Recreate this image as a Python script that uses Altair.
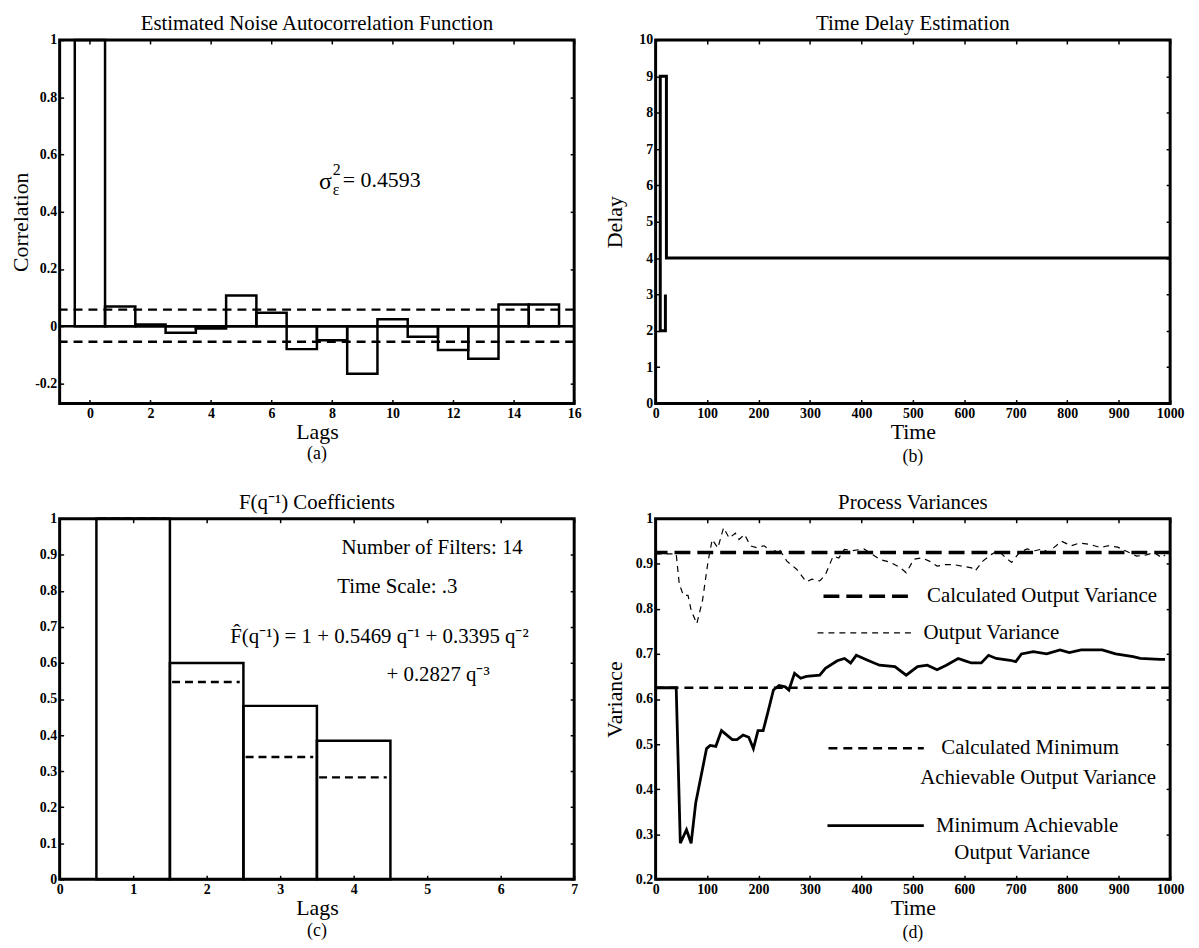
import altair as alt
import pandas as pd

FONT = "Liberation Serif"

# ---------------- (a) Estimated noise autocorrelation ----------------
acf_lag = [0, 1, 2, 3, 4, 5, 6, 7, 8, 9, 10, 11, 12, 13, 14, 15]
acf_val = [1.0, 0.069, 0.006, -0.023, -0.008, 0.107, 0.047, -0.080,
           -0.049, -0.166, 0.024, -0.037, -0.083, -0.114, 0.076, 0.076]
acf_conf = [0.058, -0.054]
acf_zero = [0.0]
acf_xticks = [0, 2, 4, 6, 8, 10, 12, 14, 16]
acf_yticks = [-0.2, 0, 0.2, 0.4, 0.6, 0.8, 1]
acf_xdom = [-1, 16]
acf_ydom = [-0.27, 1]

# ---------------- (b) Time delay estimation ----------------
delay_time = [19, 19, 9, 9, 21, 21, 1000]
delay_value = [3, 2, 2, 9, 9, 4, 4]
delay_order = [0, 1, 2, 3, 4, 5, 6]
delay_xticks = [0, 100, 200, 300, 400, 500, 600, 700, 800, 900, 1000]
delay_yticks = [0, 1, 2, 3, 4, 5, 6, 7, 8, 9, 10]

# ---------------- (c) F(q^-1) coefficients ----------------
f_lag = [1, 2, 3, 4]
f_true = [1.0, 0.6, 0.481, 0.384]
f_est = [1.0, 0.5469, 0.3395, 0.2827]
f_xticks = [0, 1, 2, 3, 4, 5, 6, 7]
f_yticks = [0, 0.1, 0.2, 0.3, 0.4, 0.5, 0.6, 0.7, 0.8, 0.9, 1]

# ---------------- (d) Process variances ----------------
calc_out_var = [0.925]
calc_min_var = [0.625]
ov_time = [0, 40, 46, 54, 63, 69, 80, 91, 102, 110, 121, 132, 143, 155, 162,
           173, 184, 196, 211, 226, 240, 255, 274, 293, 304, 319, 330, 345,
           356, 367, 382, 405, 420, 435, 457, 476, 487, 502, 517, 532, 547,
           562, 580, 595, 614, 621, 636, 651, 666, 681, 692, 707, 722, 737,
           752, 763, 774, 789, 808, 823, 845, 864, 879, 898, 913, 935, 954,
           969, 984, 990]
ov_value = [0.922, 0.922, 0.855, 0.83, 0.83, 0.797, 0.767, 0.818, 0.906,
            0.954, 0.935, 0.98, 0.957, 0.968, 0.954, 0.965, 0.94, 0.936,
            0.94, 0.926, 0.933, 0.906, 0.888, 0.86, 0.866, 0.862, 0.876,
            0.917, 0.913, 0.932, 0.929, 0.933, 0.922, 0.91, 0.903, 0.891,
            0.88, 0.91, 0.913, 0.906, 0.895, 0.898, 0.898, 0.895, 0.891,
            0.884, 0.906, 0.92, 0.929, 0.913, 0.903, 0.925, 0.933, 0.929,
            0.933, 0.925, 0.936, 0.95, 0.94, 0.946, 0.943, 0.936, 0.94,
            0.937, 0.929, 0.917, 0.92, 0.925, 0.913, 0.92]
mv_time = [0, 40, 48, 60, 69, 78, 99, 106, 117, 128, 149, 158, 170, 181, 190,
           199, 209, 218, 229, 240, 252, 259, 270, 282, 293, 319, 330, 353,
           367, 379, 390, 412, 435, 465, 487, 509, 528, 547, 565, 588, 603,
           614, 633, 647, 662, 689, 700, 711, 734, 760, 786, 804, 827, 868,
           894, 928, 942, 980, 990]
mv_value = [0.625, 0.625, 0.28, 0.31, 0.28, 0.37, 0.49, 0.497, 0.495, 0.53,
            0.51, 0.51, 0.52, 0.515, 0.49, 0.53, 0.53, 0.57, 0.62, 0.63,
            0.627, 0.62, 0.657, 0.646, 0.65, 0.653, 0.668, 0.685, 0.69, 0.68,
            0.697, 0.686, 0.675, 0.672, 0.653, 0.672, 0.675, 0.665, 0.675,
            0.69, 0.684, 0.68, 0.68, 0.697, 0.69, 0.686, 0.683, 0.70, 0.705,
            0.70, 0.709, 0.703, 0.709, 0.709, 0.70, 0.694, 0.69, 0.688, 0.688]
var_xticks = [0, 100, 200, 300, 400, 500, 600, 700, 800, 900, 1000]
var_yticks = [0.2, 0.3, 0.4, 0.5, 0.6, 0.7, 0.8, 0.9, 1]

W = 518
H_TOP = 366
H_BOT = 363
one = pd.DataFrame({"k": [0]})


def lab_axis(orient, values, title=None, title_pad=1):
    kw = dict(orient=orient, values=values, offset=-4, tickSize=4, tickWidth=1.5,
              tickColor="black", domain=False, grid=False,
              labelExpr="datum.value + ''", labelFont=FONT, labelFontSize=14,
              labelFontWeight="bold", labelColor="black", labelPadding=3,
              labelFlush=False, labelOverlap=False)
    if title:
        kw.update(title=title, titleFont=FONT, titleFontSize=22,
                  titleFontWeight="normal", titleColor="black",
                  titlePadding=title_pad)
    else:
        kw["title"] = None
    return alt.Axis(**kw)


def mirror_axis(orient, values):
    return alt.Axis(orient=orient, values=values, offset=-4, tickSize=4,
                    tickWidth=1.5, tickColor="black", domain=False, grid=False,
                    labels=False, title=None)


def ptitle(text):
    return alt.Title(text, font=FONT, fontSize=21, fontWeight="normal",
                     color="black", anchor="middle", offset=-1)


def text_at(txt, x, y, size=20, align="center", baseline="middle"):
    return alt.Chart(one).mark_text(text=txt, font=FONT, fontSize=size,
                                    color="black", align=align,
                                    baseline=baseline).encode(
        x=alt.value(x), y=alt.value(y))


def caption(txt, h, dy):
    return text_at(txt, W / 2, h + dy, size=18)


# ---------- panel (a) ----------
acf_df = pd.DataFrame({"lag": acf_lag, "r": acf_val})
xs_a = alt.Scale(domain=acf_xdom, nice=False, zero=False)
ys_a = alt.Scale(domain=acf_ydom, nice=False, zero=False)

a_bars = alt.Chart(acf_df).transform_calculate(
    x0="datum.lag - 0.5", x1="datum.lag + 0.5", b="0"
).mark_rect(fillOpacity=0, stroke="black", strokeWidth=2.5).encode(
    x=alt.X("x0:Q", scale=xs_a, axis=lab_axis("bottom", acf_xticks, "Lags")),
    x2="x1:Q",
    y=alt.Y("r:Q", scale=ys_a,
            axis=lab_axis("left", acf_yticks, "Correlation", title_pad=2)),
    y2="b:Q",
)
a_zero = alt.Chart(pd.DataFrame({"y": acf_zero})).mark_rule(
    color="black", strokeWidth=2.5).encode(y=alt.Y("y:Q", scale=ys_a, axis=None))
a_conf = alt.Chart(pd.DataFrame({"y": acf_conf})).mark_rule(
    color="black", strokeWidth=2.5, strokeDash=[9, 6]).encode(
    y=alt.Y("y:Q", scale=ys_a, axis=None))
a_mirror = alt.Chart(acf_df).mark_point(opacity=0).encode(
    x=alt.X("lag:Q", scale=xs_a, axis=mirror_axis("top", acf_xticks)),
    y=alt.Y("r:Q", scale=ys_a, axis=mirror_axis("right", acf_yticks)),
)
panel_a = alt.layer(
    a_bars, a_zero, a_conf,
    text_at("σ", 261, 150, size=24, align="left", baseline="alphabetic"),
    text_at("2", 275, 136, size=16, align="left", baseline="alphabetic"),
    text_at("ε", 275, 156, size=16, align="left", baseline="alphabetic"),
    text_at("= 0.4593", 285, 148, size=22, align="left", baseline="alphabetic"),
    caption("(a)", H_TOP, 51),
    a_mirror,
).resolve_axis(x="independent", y="independent").properties(
    width=W, height=H_TOP, title=ptitle("Estimated Noise Autocorrelation Function"))

# ---------- panel (b) ----------
delay_df = pd.DataFrame({"t": delay_time, "d": delay_value, "i": delay_order})
xs_b = alt.Scale(domain=[0, 1000], nice=False, zero=False)
ys_b = alt.Scale(domain=[0, 10], nice=False, zero=False)
b_line = alt.Chart(delay_df).mark_line(color="black", strokeWidth=3).encode(
    x=alt.X("t:Q", scale=xs_b, axis=lab_axis("bottom", delay_xticks, "Time")),
    y=alt.Y("d:Q", scale=ys_b,
            axis=lab_axis("left", delay_yticks, "Delay", title_pad=12)),
    order="i:Q",
)
b_mirror = alt.Chart(delay_df).mark_point(opacity=0).encode(
    x=alt.X("t:Q", scale=xs_b, axis=mirror_axis("top", delay_xticks)),
    y=alt.Y("d:Q", scale=ys_b, axis=mirror_axis("right", delay_yticks)),
)
panel_b = alt.layer(b_line, caption("(b)", H_TOP, 54), b_mirror).resolve_axis(
    x="independent", y="independent").properties(
    width=W, height=H_TOP, title=ptitle("Time Delay Estimation"))

# ---------- panel (c) ----------
f_df = pd.DataFrame({"lag": f_lag, "f": f_true, "e": f_est})
xs_c = alt.Scale(domain=[0, 7], nice=False, zero=False)
ys_c = alt.Scale(domain=[0, 1], nice=False, zero=False)
c_bars = alt.Chart(f_df).transform_calculate(
    x0="datum.lag - 0.5", x1="datum.lag + 0.5", b="0"
).mark_rect(fillOpacity=0, stroke="black", strokeWidth=2.5).encode(
    x=alt.X("x0:Q", scale=xs_c, axis=lab_axis("bottom", f_xticks, "Lags")),
    x2="x1:Q",
    y=alt.Y("f:Q", scale=ys_c, axis=lab_axis("left", f_yticks)),
    y2="b:Q",
)
c_est = alt.Chart(f_df).transform_calculate(
    x0="datum.lag - 0.47", x1="datum.lag + 0.45"
).mark_rule(color="black", strokeWidth=2.5, strokeDash=[8, 5]).encode(
    x=alt.X("x0:Q", scale=xs_c, axis=None),
    x2="x1:Q",
    y=alt.Y("e:Q", scale=ys_c, axis=None),
)
c_mirror = alt.Chart(f_df).mark_point(opacity=0).encode(
    x=alt.X("lag:Q", scale=xs_c, axis=mirror_axis("top", f_xticks)),
    y=alt.Y("f:Q", scale=ys_c, axis=mirror_axis("right", f_yticks)),
)
panel_c = alt.layer(
    c_bars, c_est,
    text_at("Number of Filters: 14", 375, 29, size=21),
    text_at("Time Scale: .3", 340, 69, size=21),
    text_at("F\u0302(q\u207b\u00b9) = 1 + 0.5469 q\u207b\u00b9 + 0.3395 q\u207b\u00b2", 322, 119, size=21),
    text_at("+ 0.2827 q\u207b\u00b3", 381, 157, size=21),
    caption("(c)", H_BOT, 52),
    c_mirror,
).resolve_axis(x="independent", y="independent").properties(
    width=W, height=H_BOT, title=ptitle("F(q\u207b\u00b9) Coefficients"))

# ---------- panel (d) ----------
ov_df = pd.DataFrame({"t": ov_time, "v": ov_value})
mv_df = pd.DataFrame({"t": mv_time, "v": mv_value})
xs_d = alt.Scale(domain=[0, 1000], nice=False, zero=False)
ys_d = alt.Scale(domain=[0.2, 1], nice=False, zero=False)

LONG = dict(color="black", strokeWidth=3.5, strokeDash=[16, 7])
MED = dict(color="black", strokeWidth=2.5, strokeDash=[9, 6])
THIN = dict(color="black", strokeWidth=1.2, strokeDash=[6, 5])
SOLID = dict(color="black", strokeWidth=2.8)

d_mv = alt.Chart(mv_df).mark_line(**SOLID).encode(
    x=alt.X("t:Q", scale=xs_d, axis=lab_axis("bottom", var_xticks, "Time")),
    y=alt.Y("v:Q", scale=ys_d,
            axis=lab_axis("left", var_yticks, "Variance", title_pad=9)),
)
d_ov = alt.Chart(ov_df).mark_line(**THIN).encode(
    x=alt.X("t:Q", scale=xs_d, axis=None),
    y=alt.Y("v:Q", scale=ys_d, axis=None),
)
d_cov = alt.Chart(pd.DataFrame({"y": calc_out_var})).mark_rule(**LONG).encode(
    y=alt.Y("y:Q", scale=ys_d, axis=None))
d_cmv = alt.Chart(pd.DataFrame({"y": calc_min_var})).mark_rule(**MED).encode(
    y=alt.Y("y:Q", scale=ys_d, axis=None))


def leg_line(style, x1, x2, y):
    return alt.Chart(one).mark_rule(**style).encode(
        x=alt.value(x1), x2=alt.value(x2), y=alt.value(y))


d_mirror = alt.Chart(mv_df).mark_point(opacity=0).encode(
    x=alt.X("t:Q", scale=xs_d, axis=mirror_axis("top", var_xticks)),
    y=alt.Y("v:Q", scale=ys_d, axis=mirror_axis("right", var_yticks)),
)
panel_d = alt.layer(
    d_cov, d_cmv, d_ov, d_mv,
    leg_line(LONG, 169, 260, 78),
    text_at("Calculated Output Variance", 389, 78, size=21),
    leg_line(THIN, 163, 260, 115),
    text_at("Output Variance", 338, 115, size=21),
    leg_line(MED, 174, 270, 231),
    text_at("Calculated Minimum", 377, 231, size=21),
    text_at("Achievable Output Variance", 385, 261, size=21),
    leg_line(SOLID, 173, 270, 309),
    text_at("Minimum Achievable", 374, 309, size=21),
    text_at("Output Variance", 369, 337, size=21),
    caption("(d)", H_BOT, 54),
    d_mirror,
).resolve_axis(x="independent", y="independent").properties(
    width=W, height=H_BOT, title=ptitle("Process Variances"))

chart = alt.concat(
    panel_a, panel_b, panel_c, panel_d,
    columns=2,
    spacing={"row": 116, "column": 82},
    bounds="flush",
    padding={"left": 0, "top": 0, "right": 5, "bottom": 5},
    background="white",
).configure_view(stroke="black", strokeWidth=3)

chart.save("out.html", embed_options={"renderer": "svg", "actions": False})
